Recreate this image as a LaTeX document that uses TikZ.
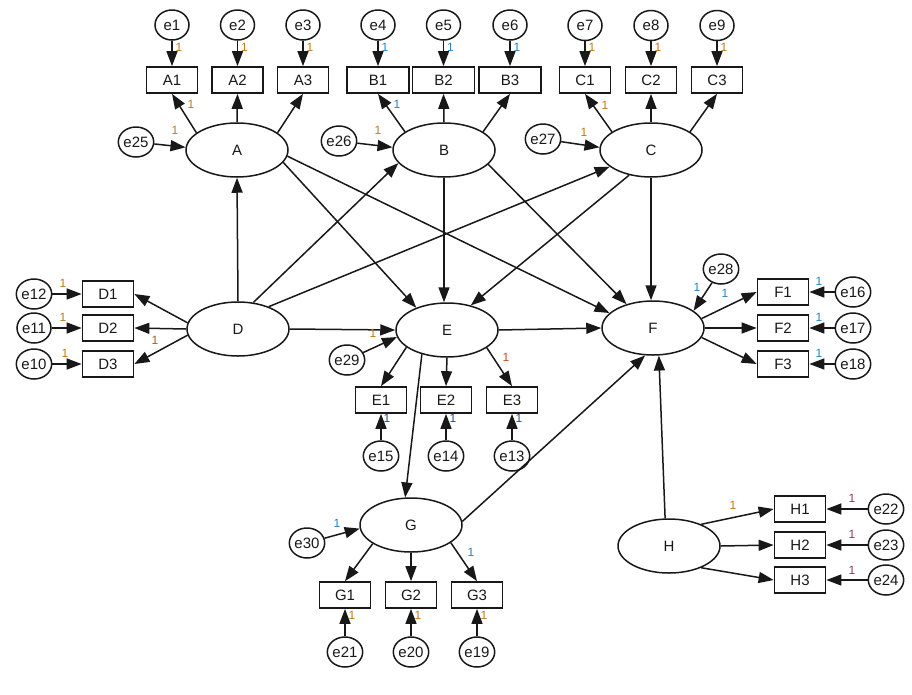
\documentclass[tikz,border=0pt]{standalone}
\usepackage{fontspec}
\setmainfont{Liberation Sans}
\usetikzlibrary{arrows.meta,shapes.geometric}
\definecolor{lor}{HTML}{C07818}
\definecolor{lbl}{HTML}{2A80C0}
\definecolor{lrd}{HTML}{C05020}
\definecolor{lmg}{HTML}{A0306A}
\definecolor{lnv}{HTML}{304890}
\definecolor{ink}{HTML}{181818}
\tikzset{
  lat/.style={draw=ink, ellipse, line width=1.5pt, minimum width=102pt, minimum height=54pt, inner sep=0pt, text=ink, font=\fontsize{15}{15}\selectfont},
  obs/.style={draw=ink, rectangle, line width=1.7pt, minimum width=51pt, minimum height=26pt, inner sep=0pt, text=ink, font=\fontsize{15}{15}\selectfont},
  wobs/.style={obs, minimum width=62pt},
  err/.style={draw=ink, ellipse, line width=1.5pt, minimum width=34pt, minimum height=30pt, inner sep=0pt, text=ink, font=\fontsize{15}{15}\selectfont},
  arr/.style={draw=ink, -{Triangle[length=15pt,width=11pt]}, line width=1.5pt},
  one/.style={font=\fontsize{12}{12}\selectfont, inner sep=0pt},
}
\begin{document}
\begin{tikzpicture}[x=1pt,y=-1pt]
\useasboundingbox (0,0) rectangle (912,694);
% latent
\node[lat] (A) at (237,150) {A};
\node[lat] (B) at (444,150) {B};
\node[lat] (C) at (651,150) {C};
\node[lat] (D) at (238,329) {D};
\node[lat] (E) at (447,330) {E};
\node[lat] (F) at (653,328) {F};
\node[lat] (G) at (411,525) {G};
\node[lat] (H) at (669,546) {H};
% indicators top
\node[obs] (A1) at (172,80) {A1};
\node[obs] (A2) at (237.5,80) {A2};
\node[obs] (A3) at (303,80) {A3};
\node[wobs] (B1) at (378,80) {B1};
\node[wobs] (B2) at (443.5,80) {B2};
\node[wobs] (B3) at (510,80) {B3};
\node[obs] (C1) at (585,80) {C1};
\node[obs] (C2) at (651,80) {C2};
\node[obs] (C3) at (717,80) {C3};
\node[err] (e1) at (172,25) {e1};
\node[err] (e2) at (237.5,25) {e2};
\node[err] (e3) at (303,25) {e3};
\node[err] (e4) at (378,25) {e4};
\node[err] (e5) at (443.5,25) {e5};
\node[err] (e6) at (510,25) {e6};
\node[err] (e7) at (585,25.5) {e7};
\node[err] (e8) at (651,25.5) {e8};
\node[err] (e9) at (717,25.5) {e9};
\node[err] (e25) at (136,142) {e25};
\node[err] (e26) at (339,141) {e26};
\node[err] (e27) at (543,139) {e27};
% D
\node[obs] (D1) at (108,294) {D1};
\node[obs] (D2) at (108,328) {D2};
\node[obs] (D3) at (108,364) {D3};
\node[err] (e12) at (34,294) {e12};
\node[err] (e11) at (34,328) {e11};
\node[err] (e10) at (34,364) {e10};
% E
\node[obs] (E1) at (381,400) {E1};
\node[obs] (E2) at (446,400) {E2};
\node[obs] (E3) at (512,400) {E3};
\node[err] (e15) at (381,456) {e15};
\node[err] (e14) at (446,456) {e14};
\node[err] (e13) at (512,456) {e13};
\node[err] (e29) at (347,360) {e29};
% F
\node[obs] (F1) at (783,292) {F1};
\node[obs] (F2) at (783,328) {F2};
\node[obs] (F3) at (783,364) {F3};
\node[err] (e16) at (853,292) {e16};
\node[err] (e17) at (853,328) {e17};
\node[err] (e18) at (853,364) {e18};
\node[err] (e28) at (721,269) {e28};
% G
\node[obs] (G1) at (345,595) {G1};
\node[obs] (G2) at (411,595) {G2};
\node[obs] (G3) at (477,595) {G3};
\node[err] (e21) at (345,652) {e21};
\node[err] (e20) at (411,652) {e20};
\node[err] (e19) at (477,652) {e19};
\node[err] (e30) at (307,543) {e30};
% H
\node[obs] (H1) at (800,509) {H1};
\node[obs] (H2) at (800,545) {H2};
\node[obs] (H3) at (800,580) {H3};
\node[err] (e22) at (886,509) {e22};
\node[err] (e23) at (886,545) {e23};
\node[err] (e24) at (886,580) {e24};

% error -> indicator
\foreach \e/\o in {e1/A1,e2/A2,e3/A3,e4/B1,e5/B2,e6/B3,e7/C1,e8/C2,e9/C3,
  e12/D1,e11/D2,e10/D3,e15/E1,e14/E2,e13/E3,e16/F1,e17/F2,e18/F3,
  e21/G1,e20/G2,e19/G3,e22/H1,e23/H2,e24/H3}
  \draw[arr] (\e) -- (\o);
% disturbances
\draw[arr] (e25) -- (A.177);
\draw[arr] (e26) -- (B.177);
\draw[arr] (e27) -- (C.177);
\draw[arr] (e29) -- (E.188);
\draw[arr] (e28) -- (F.23);
\draw[arr] (e30) -- (G.184);
% loadings
\draw[arr] (A.157) -- (A1.south);
\draw[arr] (A.north) -- (A2.south);
\draw[arr] (A.23) -- (A3.south);
\draw[arr] (B.155) -- (B1.south);
\draw[arr] (B.north) -- (B2.south);
\draw[arr] (B.25) -- (B3.south);
\draw[arr] (C.155) -- (C1.south);
\draw[arr] (C.north) -- (C2.south);
\draw[arr] (C.25) -- (C3.south);
\draw[arr] (D.173) -- (D1.east);
\draw[arr] (D.west) -- (D2.east);
\draw[arr] (D.187) -- (D3.east);
\draw[arr] (E.203) -- (E1.north);
\draw[arr] (E.south) -- (E2.north);
\draw[arr] (E.-24) -- (E3.north);
\draw[arr] (F.11) -- (F1.west);
\draw[arr] (F.east) -- (F2.west);
\draw[arr] (F.-11) -- (F3.west);
\draw[arr] (G.206) -- (G1.north);
\draw[arr] (G.south) -- (G2.north);
\draw[arr] (G.-24) -- (G3.north);
\draw[arr] (H.34) -- (H1.west);
\draw[arr] (H.east) -- (H2.west);
\draw[arr] (H.-34) -- (H3.west);
% structural
\draw[arr] (D.north) -- (A.south);
\draw[arr] (D.60) -- (B.196);
\draw[arr] (D.36) -- (C.202);
\draw[arr] (D.east) -- (E.west);
\draw[arr] (A.-15) -- (E.144);
\draw[arr] (A.-7) -- (F.161);
\draw[arr] (B.south) -- (B.south |- E.north);
\draw[arr] (B.-18) -- (F.138);
\draw[arr] (C.229) -- (E.46);
\draw[arr] (C.south) -- (C.south |- F.north);
\draw[arr] (E.east) -- (F.west);
\draw[arr] (E.224) -- (G.102);
\draw[arr] (G.4) -- (F.254);
\draw[arr] (H.98) -- (F.282);

% labels "1"
\node[one,text=lor] (l1) at (179,47) {1};
\node[one,text=lor] (l2) at (244.5,47) {1};
\node[one,text=lor] (l3) at (310,47) {1};
\node[one,text=lbl] (l4) at (385,47) {1};
\node[one,text=lbl] (l5) at (450.5,47) {1};
\node[one,text=lbl] (l6) at (517,47) {1};
\node[one,text=lor] (l7) at (592,47) {1};
\node[one,text=lor] (l8) at (658,47) {1};
\node[one,text=lor] (l9) at (724,47) {1};
\node[one,text=lor] (lA) at (191,104) {1};
\node[one,text=lbl] (lB) at (397,104) {1};
\node[one,text=lor] (lC) at (605,105) {1};
\node[one,text=lor] (l25) at (175,130) {1};
\node[one,text=lor] (l26) at (378,130) {1};
\node[one,text=lor] (l27) at (584,132) {1};
\node[one,text=lor] (l12) at (63,283) {1};
\node[one,text=lor] (l11) at (63,317) {1};
\node[one,text=lor] (l10) at (65,353) {1};
\node[one,text=lrd] (lD) at (155,340) {1};
\node[one,text=lor] (l29) at (373,333) {1};
\node[one,text=lrd] (lE) at (506,357) {1};
\node[one,text=lnv] (l15) at (387,418) {1};
\node[one,text=lnv] (l14) at (453,418) {1};
\node[one,text=lnv] (l13) at (519,418) {1};
\node[one,text=lbl] (l28) at (697,287) {1};
\node[one,text=lbl] (lF) at (725,293) {1};
\node[one,text=lbl] (l16) at (819,281) {1};
\node[one,text=lbl] (l17) at (819,317) {1};
\node[one,text=lbl] (l18) at (819,353) {1};
\node[one,text=lbl] (l30) at (337,523) {1};
\node[one,text=lbl] (lG) at (471,552) {1};
\node[one,text=lor] (l21) at (352,615) {1};
\node[one,text=lor] (l20) at (418,615) {1};
\node[one,text=lor] (l19) at (484,615) {1};
\node[one,text=lor] (lH) at (733,505) {1};
\node[one,text=lmg] (l22) at (852,498) {1};
\node[one,text=lmg] (l23) at (852,534) {1};
\node[one,text=lmg] (l24) at (852,570) {1};
\end{tikzpicture}
\end{document}
